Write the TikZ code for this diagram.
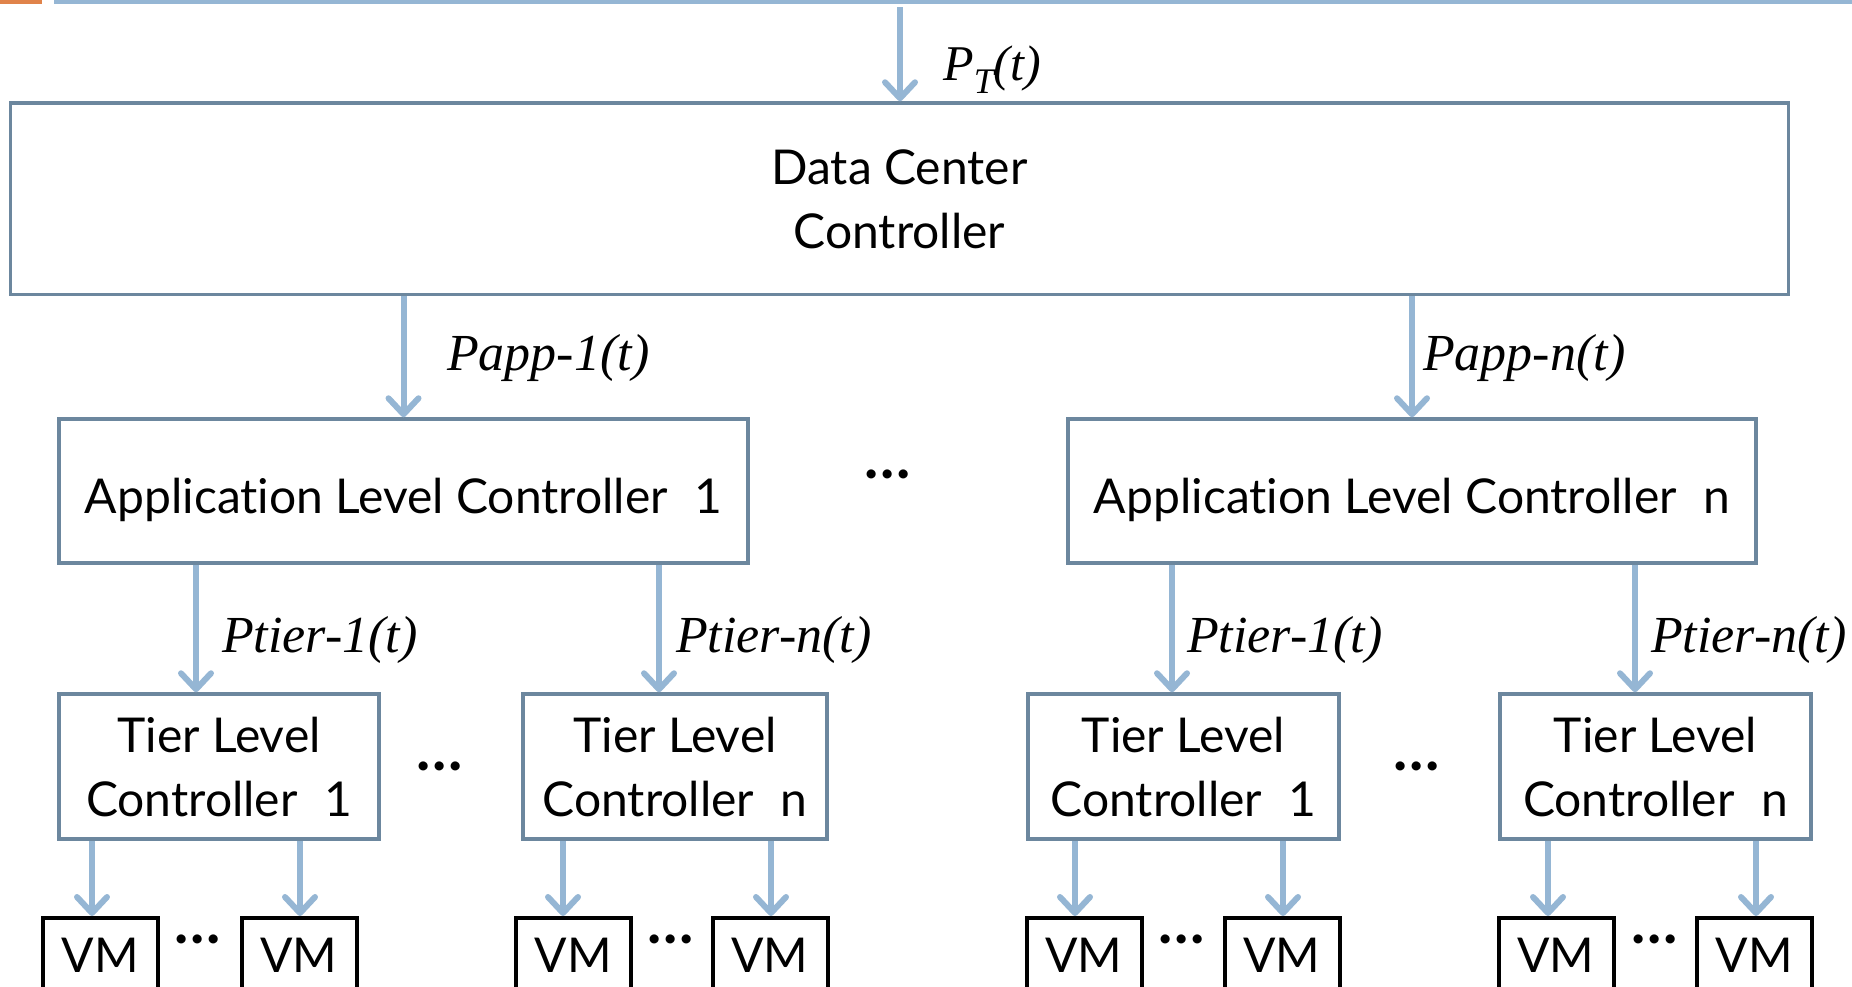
\documentclass[tikz,border=0pt]{standalone}
\usepackage{fontspec}
\setmainfont{Lato}[Ligatures=NoCommon]
\newfontfamily\labelfont{Liberation Serif}
\usetikzlibrary{arrows.meta}
\definecolor{boxline}{HTML}{6C879E}
\definecolor{arrowblue}{HTML}{95B6D4}
\definecolor{accent}{HTML}{E0834A}

\begin{document}
\begin{tikzpicture}[x=1pt,y=-1pt,
  ctrl/.style={draw=boxline, line width=3.5pt, fill=white, inner sep=0pt,
    align=center, text depth=-6pt, font=\fontsize{48}{64}\selectfont},
  appctrl/.style={ctrl, text height=44pt, text depth=0pt},
  vmbox/.style={draw=black, line width=4pt, fill=white, inner sep=0pt,
    minimum width=115pt, minimum height=74pt, font=\fontsize{48}{50}\selectfont},
  flow/.style={draw=arrowblue, line width=6pt,
    -{Straight Barb[length=16pt,width=30pt,round]}},
  sig/.style={font=\fontsize{52}{56}\selectfont\labelfont\itshape,
    anchor=base west, inner sep=0pt},
  gap/.style={font=\fontsize{60}{60}\selectfont\bfseries, anchor=base, inner sep=0pt}]

\clip (0,0) rectangle (1852,986);
\useasboundingbox (0,0) rectangle (1852,986);

% header rule
\fill[accent] (0,0) rectangle (42,3.5);
\fill[arrowblue] (54,0) rectangle (1852,3.5);

% controllers
\node[ctrl, minimum width=1778pt, minimum height=191.5pt] (dc) at (899.5,198.75) {Data Center\\Controller};

\node[appctrl, minimum width=689pt, minimum height=144pt] (alc1) at (403.5,491) {Application Level Controller\hspace{0.55em}1};
\node[appctrl, minimum width=688pt, minimum height=144pt] (alcn) at (1412,491) {Application Level Controller\hspace{0.55em}n};

\node[ctrl, minimum width=320pt, minimum height=145pt] (tlc11) at (219,766.5) {Tier Level\\Controller\hspace{0.55em}1};
\node[ctrl, minimum width=304pt, minimum height=145pt] (tlc1n) at (675,766.5) {Tier Level\\Controller\hspace{0.55em}n};
\node[ctrl, minimum width=311pt, minimum height=145pt] (tlcn1) at (1183.5,766.5) {Tier Level\\Controller\hspace{0.55em}1};
\node[ctrl, minimum width=311pt, minimum height=145pt] (tlcnn) at (1655.5,766.5) {Tier Level\\Controller\hspace{0.55em}n};

% virtual machines
\node[vmbox] (vm1) at (100.5,955) {VM};
\node[vmbox] (vm2) at (299,955) {VM};
\node[vmbox] (vm3) at (573.5,955) {VM};
\node[vmbox] (vm4) at (770,955) {VM};
\node[vmbox] (vm5) at (1084,955) {VM};
\node[vmbox] (vm6) at (1282,955) {VM};
\node[vmbox] (vm7) at (1556,955) {VM};
\node[vmbox] (vm8) at (1754.5,955) {VM};

% ellipses between siblings
\node[gap] (g0) at (888,478) {…};
\node[gap] (g1) at (440,770) {…};
\node[gap] (g2) at (1417,770) {…};
\node[gap] (g3) at (198,943) {…};
\node[gap] (g4) at (671,943) {…};
\node[gap] (g5) at (1182,943) {…};
\node[gap] (g6) at (1655,943) {…};

% power budget flow
\coordinate (feed) at (900,7);
\draw[flow] (feed) -- (feed |- dc.north);
\draw[flow] (dc.south -| alc1.north) -- (alc1.north);
\draw[flow] (dc.south -| alcn.north) -- (alcn.north);

\coordinate (t1) at (196,0);
\coordinate (t2) at (659,0);
\coordinate (t3) at (1172,0);
\coordinate (t4) at (1635,0);
\draw[flow] (t1 |- alc1.south) -- (t1 |- tlc11.north);
\draw[flow] (t2 |- alc1.south) -- (t2 |- tlc1n.north);
\draw[flow] (t3 |- alcn.south) -- (t3 |- tlcn1.north);
\draw[flow] (t4 |- alcn.south) -- (t4 |- tlcnn.north);

\coordinate (v1) at (92,0);
\coordinate (v2) at (300,0);
\coordinate (v3) at (563,0);
\coordinate (v4) at (771,0);
\coordinate (v5) at (1075,0);
\coordinate (v6) at (1283,0);
\coordinate (v7) at (1548,0);
\coordinate (v8) at (1756,0);
\draw[flow] (v1 |- tlc11.south) -- (v1 |- vm1.north);
\draw[flow] (v2 |- tlc11.south) -- (v2 |- vm2.north);
\draw[flow] (v3 |- tlc1n.south) -- (v3 |- vm3.north);
\draw[flow] (v4 |- tlc1n.south) -- (v4 |- vm4.north);
\draw[flow] (v5 |- tlcn1.south) -- (v5 |- vm5.north);
\draw[flow] (v6 |- tlcn1.south) -- (v6 |- vm6.north);
\draw[flow] (v7 |- tlcnn.south) -- (v7 |- vm7.north);
\draw[flow] (v8 |- tlcnn.south) -- (v8 |- vm8.north);

% power labels
\node[sig, font=\fontsize{50}{56}\selectfont\labelfont\itshape] (lt) at (943,80) {P\raisebox{-0.26em}{\fontsize{36}{36}\selectfont T}(t)};
\node[sig] (la1) at (447,370) {Papp-1(t)};
\node[sig] (lan) at (1423,370) {Papp-n(t)};
\node[sig] (lt11) at (222,652) {Ptier-1(t)};
\node[sig] (lt1n) at (676,652) {Ptier-n(t)};
\node[sig] (ltn1) at (1187,652) {Ptier-1(t)};
\node[sig] (ltnn) at (1651,652) {Ptier-n(t)};
\end{tikzpicture}
\end{document}
